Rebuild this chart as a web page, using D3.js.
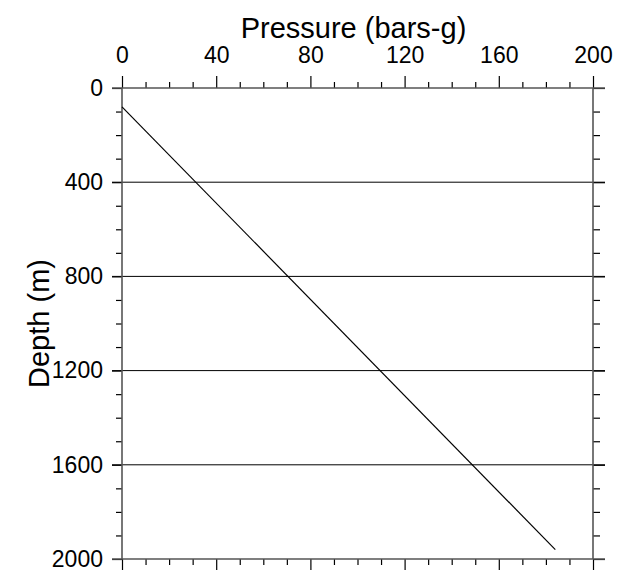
<!DOCTYPE html>
<html>
<head>
<meta charset="utf-8">
<script src="https://cdn.jsdelivr.net/npm/d3@7"></script>
<style>
  body { margin: 0; background: #fff; }
  svg { display: block; }
  text { font-family: "Liberation Sans", Arial, sans-serif; }
  .axis text { font-size: 23px; fill: #000; font-family: "Liberation Sans", Arial, sans-serif; }
  .axis line { stroke: #000; stroke-width: 1.2; }
  .axis path { display: none; }
</style>
</head>
<body>
<svg id="chart"></svg>
<script>
// Pressure (bars-g) vs depth (m) line
const pressure = [0, 184];
const depth = [80, 1960];

const xMajor = [0, 40, 80, 120, 160, 200];
const yMajor = [0, 400, 800, 1200, 1600, 2000];
const xMinor = d3.range(0, 201, 10).filter(v => v % 40 !== 0);
const yMinor = d3.range(0, 2001, 100).filter(v => v % 400 !== 0);

const config = {
    width: 623, height: 572,
    margin: { top: 88, right: 30, bottom: 13, left: 122 }
};

const svg = d3.select('#chart')
    .attr('width', config.width)
    .attr('height', config.height);

const width = config.width - config.margin.left - config.margin.right;
const height = config.height - config.margin.top - config.margin.bottom;

const chart = svg.append('g')
    .attr('transform', `translate(${config.margin.left},${config.margin.top})`);

const xScale = d3.scaleLinear().domain([0, 200]).range([0, width]);
const yScale = d3.scaleLinear().domain([0, 2000]).range([0, height]);
const fmt = d3.format('d');

// Gridlines at inner major depths (extend past both axes like ticks)
chart.selectAll('.grid')
    .data(yMajor.filter(v => v > 0 && v < 2000))
    .join('line')
    .attr('class', 'grid')
    .attr('x1', -10).attr('x2', width + 12)
    .attr('y1', d => yScale(d)).attr('y2', d => yScale(d))
    .attr('stroke', '#000').attr('stroke-width', 1);

// Minor ticks
chart.append('g').attr('class', 'axis')
    .call(d3.axisTop(xScale).tickValues(xMinor).tickSize(6).tickFormat(''));
chart.append('g').attr('class', 'axis')
    .attr('transform', `translate(0,${height})`)
    .call(d3.axisBottom(xScale).tickValues(xMinor).tickSize(6).tickFormat(''));
chart.append('g').attr('class', 'axis')
    .call(d3.axisLeft(yScale).tickValues(yMinor).tickSize(6).tickFormat(''));
chart.append('g').attr('class', 'axis')
    .attr('transform', `translate(${width},0)`)
    .call(d3.axisRight(yScale).tickValues(yMinor).tickSize(7).tickFormat(''));

// Major ticks + labels
chart.append('g').attr('class', 'axis')
    .call(d3.axisTop(xScale).tickValues(xMajor).tickSize(12).tickPadding(13).tickFormat(fmt));
chart.append('g').attr('class', 'axis')
    .attr('transform', `translate(0,${height})`)
    .call(d3.axisBottom(xScale).tickValues(xMajor).tickSize(11).tickFormat(''));
chart.append('g').attr('class', 'axis')
    .call(d3.axisLeft(yScale).tickValues(yMajor).tickSize(10).tickPadding(9).tickFormat(fmt));
chart.append('g').attr('class', 'axis')
    .attr('transform', `translate(${width},0)`)
    .call(d3.axisRight(yScale).tickValues(yMajor).tickSize(12).tickFormat(''));

// Frame: top/bottom lines extend a little past the sides
const frame = chart.append('g')
    .attr('stroke', '#555').attr('stroke-width', 1.6);
frame.append('line').attr('x1', -10).attr('x2', width + 12).attr('y1', 0).attr('y2', 0);
frame.append('line').attr('x1', -10).attr('x2', width + 12).attr('y1', height).attr('y2', height);
frame.append('line').attr('x1', 0).attr('x2', 0).attr('y1', 0).attr('y2', height);
frame.append('line').attr('x1', width).attr('x2', width).attr('y1', 0).attr('y2', height);

// Data line
const points = pressure.map((p, i) => [p, depth[i]]);
chart.append('path')
    .datum(points)
    .attr('fill', 'none')
    .attr('stroke', '#000')
    .attr('stroke-width', 1.2)
    .attr('d', d3.line().x(d => xScale(d[0])).y(d => yScale(d[1])));

// Axis titles
svg.append('text')
    .attr('x', config.margin.left + width / 2 - 4)
    .attr('y', 38)
    .attr('text-anchor', 'middle')
    .attr('font-size', 29)
    .text('Pressure (bars-g)');

svg.append('text')
    .attr('transform', `translate(49,${config.margin.top + height / 2}) rotate(-90)`)
    .attr('text-anchor', 'middle')
    .attr('font-size', 29)
    .text('Depth (m)');
</script>
</body>
</html>
